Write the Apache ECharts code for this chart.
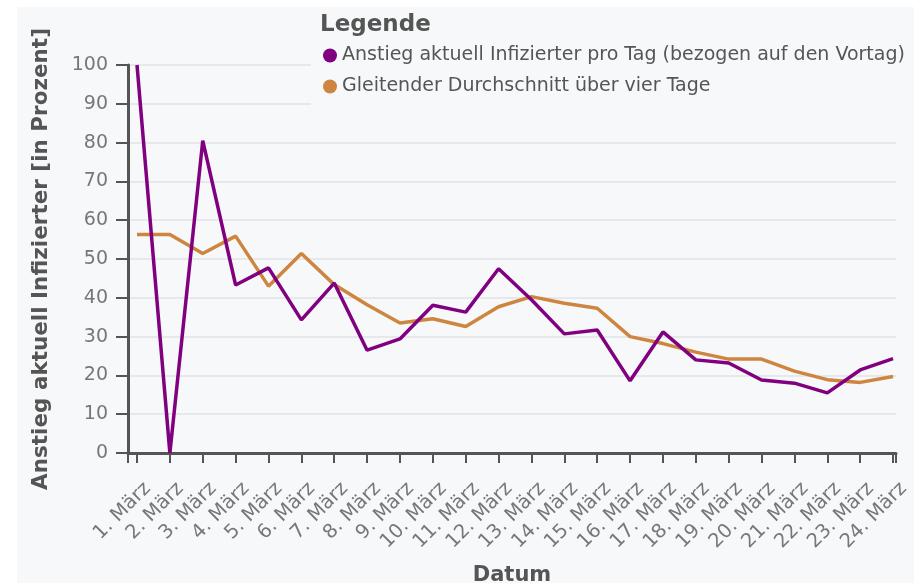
<!DOCTYPE html>
<html><head><meta charset="utf-8">
<script src="https://cdn.jsdelivr.net/npm/echarts@6/dist/echarts.min.js"></script>
<style>html,body{margin:0;padding:0;background:#fff}#c{width:914px;height:583px}</style>
</head><body><div id="c"></div>
<script>
var categories = ['1. März','2. März','3. März','4. März','5. März','6. März','7. März','8. März','9. März','10. März','11. März','12. März','13. März','14. März','15. März','16. März','17. März','18. März','19. März','20. März','21. März','22. März','23. März','24. März'];
var anstieg = [100, 0, 80.5, 43.3, 47.7, 34.3, 43.8, 26.5, 29.4, 38.1, 36.3, 47.5, 39.5, 30.7, 31.7, 18.6, 31.2, 24, 23.2, 18.8, 18, 15.5, 21.4, 24.3];
var gleitend = [56.3, 56.3, 51.4, 55.9, 43, 51.4, 43.4, 38.2, 33.5, 34.6, 32.6, 37.7, 40.3, 38.6, 37.3, 30, 28.2, 26, 24.2, 24.2, 21.1, 18.9, 18.2, 19.7];
var yTicks = [0,10,20,30,40,50,60,70,80,90,100];
var seriesNames = ['Anstieg aktuell Infizierter pro Tag (bezogen auf den Vortag)', 'Gleitender Durchschnitt über vier Tage'];

var xs = categories.map(function(c,i){return i+1;});
var F = 'DejaVu Sans';
var chart = echarts.init(document.getElementById('c'));
chart.setOption({
  animation:false,
  backgroundColor:'#fff',
  graphic:[{type:'rect', z:-10, shape:{x:17,y:7,width:897,height:576}, style:{fill:'#f7f8fa'}, silent:true}],
  title:{text:'Legende', left:320, top:14, padding:[0,0,0,0], z:20, textStyle:{fontFamily:F, fontSize:23, fontWeight:'bold', color:'#555'}},
  legend:{
    orient:'vertical', left:311, top:10, padding:[36,30,28,12], itemGap:12, z:10,
    backgroundColor:'#f7f8fa', icon:'circle', itemWidth:14, itemHeight:14,
    textStyle:{fontFamily:F, fontSize:19, color:'#555'},
    data:seriesNames
  },
  grid:{left:128, right:18, top:65, bottom:130, containLabel:false, outerBoundsMode:'none'},
  xAxis:{
    type:'value', min:0.726, max:24.09,
    name:'Datum', nameLocation:'middle', nameGap:112,
    nameTextStyle:{fontFamily:F, fontSize:21, fontWeight:'bold', color:'#555'},
    axisLine:{lineStyle:{color:'#555', width:3}},
    axisTick:{show:true, length:10, lineStyle:{color:'#555', width:2}, customValues:[0.726].concat(xs).concat([24.09])},
    axisLabel:{rotate:45, fontFamily:F, fontSize:19.5, color:'#777', margin:22, verticalAlign:'top', padding:[5,0,0,0], customValues:xs,
      formatter:function(v){return categories[Math.round(v)-1]||'';}},
    splitLine:{show:false}
  },
  yAxis:{
    type:'value', min:0, max:100, interval:10,
    name:'Anstieg aktuell Infizierter [in Prozent]', nameLocation:'middle', nameGap:76,
    nameTextStyle:{fontFamily:F, fontSize:21.5, fontWeight:'bold', color:'#555'},
    axisLine:{show:true, lineStyle:{color:'#555', width:3}},
    axisTick:{show:true, length:12, lineStyle:{color:'#555', width:2}},
    axisLabel:{fontFamily:F, fontSize:19, color:'#777', margin:20,
      formatter:function(v){return yTicks.indexOf(v)>=0? String(v):'';}},
    splitLine:{show:true, lineStyle:{color:'#e2e3e6', width:1.5}}
  },
  series:[
    {name:seriesNames[0], type:'line', data:anstieg.map(function(v,i){return [xs[i],v];}), showSymbol:false, symbol:'circle',
      itemStyle:{color:'#800080'}, lineStyle:{color:'#800080', width:3.5}, z:3},
    {name:seriesNames[1], type:'line', data:gleitend.map(function(v,i){return [xs[i],v];}), showSymbol:false, symbol:'circle',
      itemStyle:{color:'#cd853f'}, lineStyle:{color:'#cd853f', width:3.5}, z:2}
  ]
});
</script></body></html>
